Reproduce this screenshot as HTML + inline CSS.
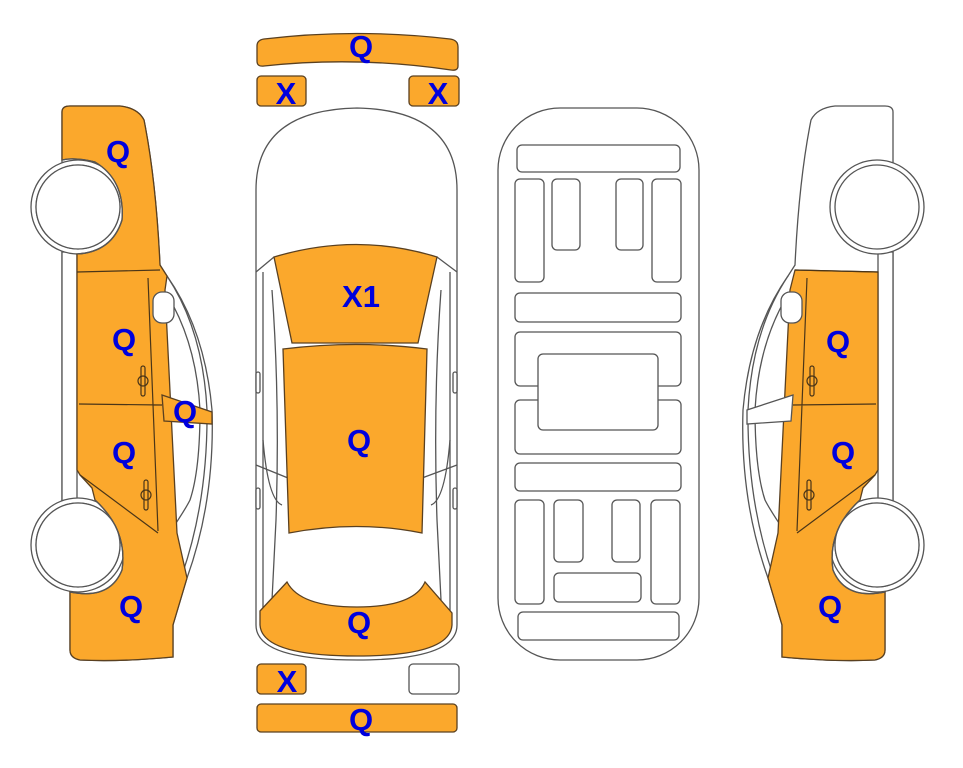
<!DOCTYPE html>
<html><head><meta charset="utf-8"><style>
html,body{margin:0;padding:0;background:#fff;width:963px;height:768px;overflow:hidden}
svg{display:block}
text{font-family:"Liberation Sans",Arial,sans-serif;font-weight:bold;fill:#0000dd;text-anchor:middle}
.o{fill:#fba82c;stroke:#5a4020;stroke-width:1.3}
.w{fill:#fff;stroke:#555;stroke-width:1.3}
.l{fill:none;stroke:#555;stroke-width:1.3}
.d{fill:none;stroke:#4a3518;stroke-width:1.2}
</style></head><body>
<svg width="963" height="768" viewBox="0 0 963 768">
<!-- bumpers -->
<path class="o" d="M257,46 Q257,40 264,39 Q357,28 450,39 Q458,40 458,47 L458,66 Q458,71 451,70 Q357,56 264,66 Q257,67 257,61 Z"/>
<rect class="o" x="257" y="76" width="49" height="30" rx="4"/>
<rect class="o" x="409" y="76" width="50" height="30" rx="4"/>
<rect class="o" x="257" y="664" width="49" height="30" rx="4"/>
<rect class="w" x="409" y="664" width="50" height="30" rx="4"/>
<rect class="o" x="257" y="704" width="200" height="28" rx="4"/>
<text x="361" y="57" font-size="31">Q</text>
<text x="286" y="104" font-size="31">X</text>
<text x="438" y="104" font-size="31">X</text>
<text x="287" y="692" font-size="31">X</text>
<text x="361" y="730" font-size="31">Q</text>

<!-- left car -->
<g id="car">
<path class="w" d="M62,112 Q62,106 70,106 L120,106 Q138,108 144,120 Q156,180 160,265 L167,276 Q205,330 212,410 Q215,500 187,578 L173,625 L173,657 Q120,662 80,660 Q70,658 70,650 L70,585 L62,585 L62,112 Z"/>
<path class="w" d="M167,276 Q203,330 207,410 Q208,500 182,575" />
<path class="l" d="M160,284 Q196,335 200,410 Q200,470 190,500 Q185,510 170,532"/>
<rect class="w" x="62" y="252" width="15" height="250"/>
<circle class="w" cx="78" cy="207" r="47"/><circle class="w" cx="78" cy="207" r="42"/>
<circle class="w" cx="78" cy="545" r="47"/><circle class="w" cx="78" cy="545" r="42"/>
</g>
<!-- left orange -->
<path class="o" d="M62,112 Q62,106 70,106 L120,106 Q138,108 144,120 Q156,180 160,265 L167,276 L165,290 L177,533 L187,578 L173,625 L173,657 Q120,662 80,660 Q70,658 70,650 L70,592 Q110,600 122,570 Q128,530 95,500 L92,488 L80,475 L77,470 L77,254 Q112,252 122,220 Q125,180 95,162 Q75,157 62,160 Z"/>
<circle class="w" cx="78" cy="207" r="42"/>
<circle class="w" cx="78" cy="545" r="42"/>
<path class="l" d="M77,254 Q112,252 122,220 Q125,180 95,162 Q75,157 62,160"/>
<path class="l" d="M70,592 Q110,600 122,570 Q128,530 95,500"/>
<path class="d" d="M77,272 L160,270 M79,404 L162,405 M148,278 L158,531 M80,475 L158,533"/>
<rect class="w" x="153" y="292" width="21" height="31" rx="9"/>
<path class="o" d="M162,395 L212,412 L212,424 L164,421 Z"/>
<rect class="d" x="141" y="366" width="4" height="30" rx="2"/><circle class="d" cx="143" cy="381" r="5"/>
<rect class="d" x="144" y="480" width="4" height="30" rx="2"/><circle class="d" cx="146" cy="495" r="5"/>
<text x="118" y="162" font-size="31">Q</text>
<text x="124" y="350" font-size="31">Q</text>
<text x="185" y="422" font-size="31">Q</text>
<text x="124" y="463" font-size="31">Q</text>
<text x="131" y="617" font-size="31">Q</text>

<!-- right car mirrored -->
<g transform="translate(955,0) scale(-1,1)">
<use href="#car"/>
<path class="o" d="M77,272 L160,270 L165,290 L177,533 L187,578 L173,625 L173,657 Q120,662 80,660 Q70,658 70,650 L70,592 Q110,600 122,570 Q128,530 95,500 L92,488 L80,475 L77,470 Z"/>
<circle class="w" cx="78" cy="545" r="42"/>
<path class="l" d="M70,592 Q110,600 122,570 Q128,530 95,500"/>
<path class="d" d="M77,272 L160,270 M79,404 L162,405 M148,278 L158,531 M80,475 L158,533"/>
<rect class="w" x="153" y="292" width="21" height="31" rx="9"/>
<path class="w" d="M162,395 L208,410 L208,424 L164,421 Z"/>
<rect class="d" x="141" y="366" width="4" height="30" rx="2"/><circle class="d" cx="143" cy="381" r="5"/>
<rect class="d" x="144" y="480" width="4" height="30" rx="2"/><circle class="d" cx="146" cy="495" r="5"/>
</g>
<text x="838" y="352" font-size="31">Q</text>
<text x="843" y="463" font-size="31">Q</text>
<text x="830" y="617" font-size="31">Q</text>

<!-- top view -->
<path class="w" d="M256,190 Q256,110 357,108 Q457,110 457,190 L457,625 Q457,660 357,660 Q256,660 256,625 Z"/>
<path class="l" d="M263,272 L263,611 M272,290 Q280,400 276,520 L272,600 M450,272 L450,611 M441,290 Q433,400 437,520 L441,600"/>
<path class="l" d="M256,272 L274,257 M457,272 L437,257"/>
<path class="l" d="M263,440 Q268,500 282,505 M450,440 Q445,500 431,505 M256,465 L288,478 M457,465 L422,478"/>
<path class="o" d="M274,257 Q357,232 437,257 L418,343 L292,343 Z"/>
<path class="o" d="M283,349 Q357,340 427,349 L422,533 Q357,520 289,533 Z"/>
<path class="o" d="M260,611 L287,582 Q300,607 357,607 Q414,607 425,582 L452,613 L452,625 Q450,656 357,656 Q262,656 260,625 Z"/>
<rect class="w" x="256" y="372" width="4" height="21" rx="2"/>
<rect class="w" x="256" y="488" width="4" height="21" rx="2"/>
<rect class="w" x="453" y="372" width="4" height="21" rx="2"/>
<rect class="w" x="453" y="488" width="4" height="21" rx="2"/>
<text x="361" y="307" font-size="31">X1</text>
<text x="359" y="451" font-size="31">Q</text>
<text x="359" y="633" font-size="31">Q</text>

<!-- underbody -->
<rect class="w" x="498" y="108" width="201" height="552" rx="62"/>
<g class="w">
<rect x="517" y="145" width="163" height="27" rx="5"/>
<rect x="515" y="179" width="29" height="103" rx="5"/>
<rect x="552" y="179" width="28" height="71" rx="5"/>
<rect x="616" y="179" width="27" height="71" rx="5"/>
<rect x="652" y="179" width="29" height="103" rx="5"/>
<rect x="515" y="293" width="166" height="29" rx="5"/>
<rect x="515" y="332" width="166" height="54" rx="5"/>
<rect x="515" y="400" width="166" height="54" rx="5"/>
<rect x="538" y="354" width="120" height="76" rx="5"/>
<rect x="515" y="463" width="166" height="28" rx="5"/>
<rect x="515" y="500" width="29" height="104" rx="5"/>
<rect x="554" y="500" width="29" height="62" rx="5"/>
<rect x="612" y="500" width="28" height="62" rx="5"/>
<rect x="651" y="500" width="29" height="104" rx="5"/>
<rect x="554" y="573" width="87" height="29" rx="5"/>
<rect x="518" y="612" width="161" height="28" rx="5"/>
</g>
</svg>
</body></html>
